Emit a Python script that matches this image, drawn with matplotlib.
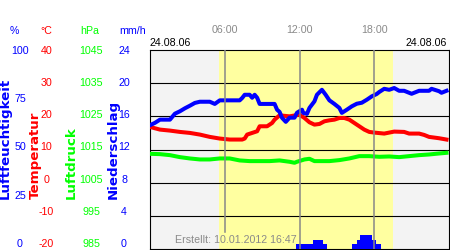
import numpy as np
import matplotlib.pyplot as plt

plt.rcParams['font.family'] = ['Liberation Sans', 'DejaVu Sans']
plt.rcParams['axes.unicode_minus'] = False

# hours of the day 24.08.06 and the readings
hum_t = [0.0, 0.4, 0.8, 1.6, 2.0, 2.4, 2.8, 3.2, 3.6, 4.0, 4.8, 5.2, 5.6, 7.2, 7.4, 7.6,
         8.0, 8.2, 8.4, 8.6, 8.8, 10.0, 10.2, 10.4, 10.6, 10.9, 11.2, 11.6, 11.8, 12.2,
         12.3, 12.6, 12.8, 13.2, 13.4, 13.8, 14.1, 14.4, 14.8, 15.2, 15.4, 15.8, 16.2,
         16.6, 17.0, 17.4, 17.8, 18.2, 18.4, 18.8, 19.2, 19.6, 20.0, 20.4, 21.0, 21.6,
         22.4, 22.6, 23.2, 23.4, 23.8]
humidity = [62.2, 63.4, 65.0, 65.0, 68.0, 69.2, 70.7, 72.0, 73.4, 74.0, 74.0, 72.9, 74.7,
            74.7, 75.9, 77.5, 77.5, 76.0, 77.5, 76.0, 72.9, 72.9, 70.0, 68.9, 65.9, 63.9,
            66.0, 66.0, 68.5, 70.0, 68.4, 67.9, 70.9, 74.2, 77.5, 80.0, 77.5, 74.7, 72.9,
            70.9, 68.4, 70.0, 71.7, 73.0, 73.5, 75.0, 76.7, 77.9, 78.9, 80.5, 80.0, 80.9,
            79.5, 79.5, 78.0, 79.5, 79.5, 80.5, 79.3, 78.5, 79.5]

temp_t = [0.0, 0.8, 1.6, 2.4, 3.2, 4.0, 4.8, 5.6, 6.4, 7.4, 7.6, 7.8, 8.2, 8.6, 8.8, 9.4,
          9.8, 10.0, 10.4, 11.2, 12.0, 12.4, 12.8, 13.2, 13.6, 14.0, 14.4, 14.8, 15.2,
          15.6, 16.0, 16.4, 16.8, 17.2, 17.6, 18.0, 18.8, 19.6, 20.4, 20.8, 21.6, 22.0,
          22.4, 23.2, 23.8]
temperature = [16.8, 16.0, 15.7, 15.3, 15.0, 14.5, 13.8, 13.3, 13.0, 13.0, 13.3, 14.5,
               15.0, 15.5, 17.0, 17.0, 18.0, 19.0, 20.3, 20.0, 20.5, 19.5, 18.2, 17.5,
               17.7, 18.5, 18.8, 19.0, 19.5, 19.5, 19.0, 18.0, 17.0, 16.0, 15.3, 15.1,
               14.8, 15.4, 15.3, 14.8, 14.8, 14.4, 13.8, 13.4, 13.0]

pres_t = [0.0, 0.8, 1.6, 2.4, 3.2, 4.0, 4.8, 5.6, 6.4, 7.2, 8.0, 8.8, 9.6, 10.4, 11.2,
          11.6, 11.8, 12.4, 12.8, 13.2, 14.4, 15.2, 16.0, 16.8, 17.6, 18.4, 19.2, 20.0,
          20.8, 21.6, 22.4, 23.2, 23.8]
pressure = [1013.7, 1013.6, 1013.3, 1012.7, 1012.3, 1012.0, 1012.0, 1012.3, 1012.3,
            1011.7, 1011.5, 1011.5, 1011.5, 1011.7, 1011.3, 1011.0, 1011.3, 1012.0,
            1012.2, 1011.5, 1011.5, 1011.8, 1012.3, 1013.0, 1013.0, 1012.8, 1012.9,
            1012.7, 1013.0, 1013.3, 1013.5, 1013.8, 1014.0]

# precipitation: value holds from one time to the next
rain_t = [11.68, 13.12, 13.92, 14.24, 16.24, 16.64, 16.88, 17.84, 18.16, 18.56]
rain = [0.6, 1.1, 0.6, 0.0, 0.6, 1.1, 1.7, 1.1, 0.6, 0.0]

daylight = (5.55, 19.52)
hour_ticks = [6, 12, 18]
hour_labels = ['06:00', '12:00', '18:00']
date_label = '24.08.06'
created = 'Erstellt: 10.01.2012 16:47'

hum_ticks = [0, 25, 50, 75, 100]
temp_ticks = [-20, -10, 0, 10, 20, 30, 40]
pres_ticks = [985, 995, 1005, 1015, 1025, 1035, 1045]
rain_ticks = [0, 4, 8, 12, 16, 20, 24]

BLUE = '#0000ff'
RED = '#ff0000'
GREEN = '#00ff00'
GREY = '#8a8a8a'
FS = 7.7

fig = plt.figure(figsize=(4.5, 2.5), dpi=100)
pos = [150 / 450, 1 / 250, 299 / 450, 199 / 250]

# main axes carries the temperature scale, background and grid
ax = fig.add_axes(pos)
ax.set_xlim(0, 24)
ax.set_ylim(temp_ticks[0], temp_ticks[-1])
ax.set_facecolor('#f3f3f3')
ax.axvspan(*daylight, color='#ffffa0', lw=0, zorder=0)
for v in temp_ticks[1:-1]:
    ax.axhline(v, color='black', lw=0.8, zorder=1)
for sp in ax.spines.values():
    sp.set_linewidth(0.8)
ax.set_yticks([])
ax.xaxis.tick_top()
ax.set_xticks(hour_ticks)
ax.set_xticklabels(hour_labels)
ax.tick_params(axis='x', length=0, pad=11, labelsize=FS, labelcolor=GREY)
ax.plot(temp_t, temperature, color=RED, lw=2.9, zorder=3)

ax_r = ax.twinx()
ax_r.set_ylim(rain_ticks[0], rain_ticks[-1])
ax_r.bar(rain_t[:-1], rain[:-1], width=np.diff(rain_t), align='edge', color=BLUE, lw=0)

ax_p = ax.twinx()
ax_p.set_ylim(pres_ticks[0], pres_ticks[-1])
ax_p.plot(pres_t, pressure, color=GREEN, lw=2.9)

ax_h = ax.twinx()
ax_h.set_ylim(hum_ticks[0], hum_ticks[-1])
ax_h.plot(hum_t, humidity, color=BLUE, lw=2.9, zorder=2)
line_from = [0.085, 0, 0]
for h, y0 in zip(hour_ticks, line_from):
    ax_h.axvline(h, ymin=y0, color='#888888', lw=1.1, zorder=4)

for a in (ax_r, ax_p, ax_h):
    a.set_yticks([])
    for sp in a.spines.values():
        sp.set_visible(False)

ax.text(0, 1.034, date_label, transform=ax.transAxes, ha='left', va='center', fontsize=FS)
ax.text(0.993, 1.034, date_label, transform=ax.transAxes, ha='right', va='center', fontsize=FS)
ax.text(0.0836, 0.045, created, transform=ax.transAxes, ha='left', va='center',
        fontsize=FS, color=GREY)

# tick label columns on the left
label_pos = [150 / 450, 7 / 250, 299 / 450, 193 / 250]
scales = [
    (hum_ticks, BLUE, 20, '%', 14, 'Luftfeuchtigkeit', 5.5),
    (temp_ticks, RED, 46.5, '°C', 46.5, 'Temperatur', 35.3),
    (pres_ticks, GREEN, 91, 'hPa', 90, 'Luftdruck', 71.5),
    (rain_ticks, BLUE, 124, 'mm/h', 132.5, 'Niederschlag', 113),
]
for ticks, col, cx, unit, ux, name, nx in scales:
    la = fig.add_axes(label_pos)
    la.patch.set_visible(False)
    for sp in la.spines.values():
        sp.set_visible(False)
    la.set_xticks([])
    la.set_ylim(ticks[0], ticks[-1])
    la.set_yticks(ticks)
    la.spines['left'].set_position(('outward', (150 - cx) * 0.72))
    la.tick_params(axis='y', length=0, pad=0, labelsize=FS, labelcolor=col)
    plt.setp(la.get_yticklabels(), ha='center')
    fig.text(ux / 450, 1 - 30.7 / 250, unit, color=col, fontsize=FS, ha='center', va='center')
    fig.text(nx / 450, 51 / 250, name, color=col, fontsize=9.6, fontweight='bold',
             family='DejaVu Sans', rotation=90, ha='center', va='bottom')

fig.savefig('out.png', dpi=100)
